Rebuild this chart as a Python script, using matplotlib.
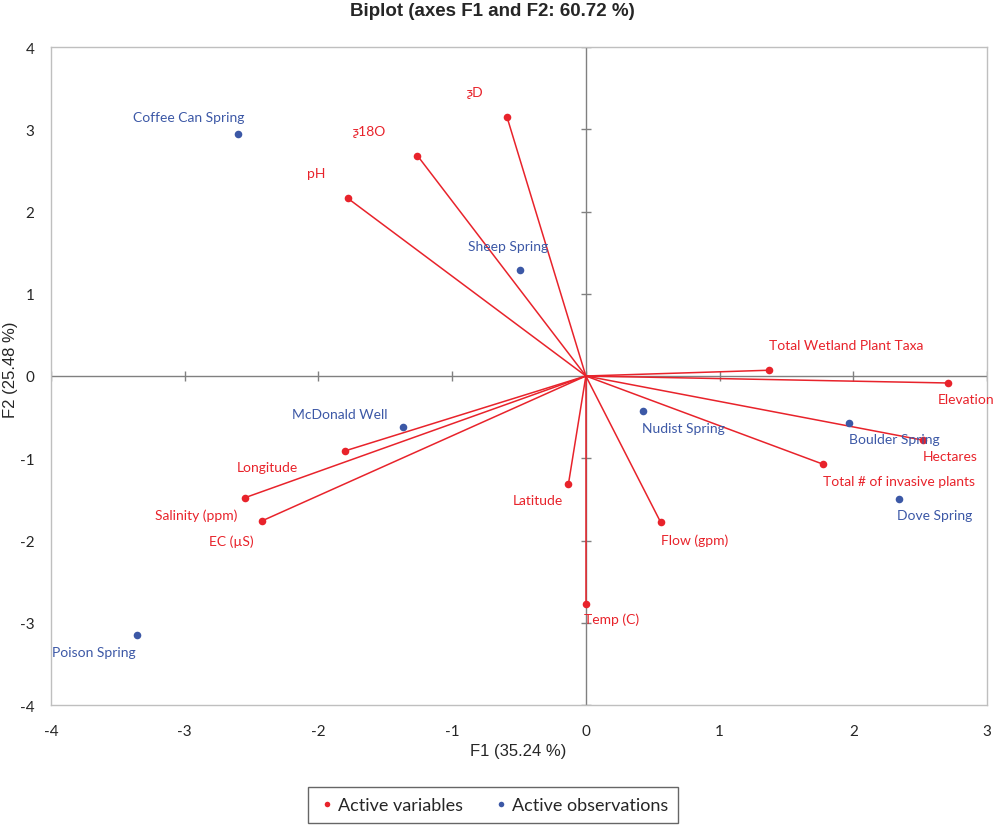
import matplotlib
matplotlib.use("Agg")
import matplotlib.pyplot as plt
from matplotlib.lines import Line2D

# ---- data ----
var_names = ["ƺD", "ƺ18O", "pH", "Total Wetland Plant Taxa", "Elevation", "Hectares",
             "Total # of invasive plants", "Flow (gpm)", "Temp (C)", "Latitude",
             "Longitude", "Salinity (ppm)", "EC (µS)"]
var_f1 = [-0.59, -1.26, -1.78, 1.37, 2.71, 2.52, 1.77, 0.56, 0.00, -0.13, -1.80, -2.55, -2.42]
var_f2 = [3.15, 2.68, 2.16, 0.07, -0.085, -0.78, -1.07, -1.78, -2.77, -1.31, -0.91, -1.48, -1.76]

obs_names = ["Coffee Can Spring", "Sheep Spring", "Nudist Spring", "Boulder Spring",
             "Dove Spring", "McDonald Well", "Poison Spring"]
obs_f1 = [-2.60, -0.49, 0.43, 1.97, 2.34, -1.37, -3.36]
obs_f2 = [2.94, 1.29, -0.43, -0.57, -1.50, -0.62, -3.15]

x_ticks = [-4, -3, -2, -1, 0, 1, 2, 3]
y_ticks = [-4, -3, -2, -1, 0, 1, 2, 3, 4]

# ---- label offsets (pixels) ----
var_off = [(-32, 25), (-48, 25), (-32, 25), (77, 25), (18, -16), (27, -16),
           (76, -17), (34, -17), (26, -15), (-31, -16), (-78, -16), (-49, -17), (-31, -20)]
obs_off = [(-50, 17), (-12, 24), (40, -17), (45, -16), (36, -16), (-63, 13), (-43, -17)]

RED = "#E8232B"
BLUE = "#3C58A6"
LBL_FONT = ["Lato", "DejaVu Sans"]

fig = plt.figure(figsize=(9.96, 8.28), dpi=100)
W, H = 996, 828
ax = fig.add_axes([51 / W, (H - 706) / H, 936 / W, 658 / H])
ax.set_xlim(-4, 3)
ax.set_ylim(-4, 4)

for s in ax.spines.values():
    s.set_color("#BFBFBF")
    s.set_linewidth(1.0)

# zero lines with tick marks
ax.axhline(0, color="#808080", lw=1.0, zorder=1)
ax.axvline(0, color="#808080", lw=1.0, zorder=1)
ax.plot(x_ticks, [0] * len(x_ticks), linestyle="none", marker="|", ms=7,
        color="#808080", mew=1.0, zorder=1)
ax.plot([0] * len(y_ticks), y_ticks, linestyle="none", marker="_", ms=7,
        color="#808080", mew=1.0, zorder=1)

# variable vectors
for x, y in zip(var_f1, var_f2):
    ax.plot([0, x], [0, y], color=RED, lw=1.1, zorder=2)
ax.scatter(var_f1, var_f2, s=30, color=RED, zorder=3, linewidths=0)
ax.scatter(obs_f1, obs_f2, s=30, color=BLUE, zorder=3, linewidths=0)

for name, x, y, (dx, dy) in zip(var_names, var_f1, var_f2, var_off):
    ax.annotate(name, (x, y), xytext=(dx, dy), textcoords="offset pixels",
                ha="center", va="center", color=RED, fontsize=10,
                family=LBL_FONT, zorder=4, annotation_clip=False)
for name, x, y, (dx, dy) in zip(obs_names, obs_f1, obs_f2, obs_off):
    ax.annotate(name, (x, y), xytext=(dx, dy), textcoords="offset pixels",
                ha="center", va="center", color=BLUE, fontsize=10,
                family=LBL_FONT, zorder=4, annotation_clip=False)

ax.set_xticks(x_ticks)
ax.set_yticks(y_ticks)
ax.set_xticklabels([str(t) for t in x_ticks], family=LBL_FONT, fontsize=11)
ax.set_yticklabels([str(t) for t in y_ticks], family=LBL_FONT, fontsize=11)
ax.tick_params(axis="both", length=0, colors="#262626")
ax.tick_params(axis="x", pad=14)
ax.tick_params(axis="y", pad=12)

fig.text(518 / W, 1 - 752 / H, "F1 (35.24 %)", ha="center", va="center",
         family="Liberation Sans", fontsize=12, color="#262626")
fig.text(11 / W, 1 - 370 / H, "F2 (25.48 %)", ha="center", va="center", rotation=90,
         family="Liberation Sans", fontsize=12, color="#262626")

fig.text(492 / W, 1 - 12 / H, "Biplot (axes F1 and F2: 60.72 %)", ha="center", va="center",
         family="Liberation Sans", fontweight="bold", fontsize=13.5, color="#262626")

handles = [Line2D([], [], linestyle="none", marker="o", ms=4, color=RED, mew=0),
           Line2D([], [], linestyle="none", marker="o", ms=4, color=BLUE, mew=0)]
leg = fig.legend(handles, ["Active variables", "Active observations"], loc="center",
                 bbox_to_anchor=(493 / W, 1 - 806 / H), ncol=2, frameon=True,
                 fancybox=False, edgecolor="#404040", handletextpad=0.1,
                 columnspacing=1.6, handlelength=1.0, borderpad=0.55,
                 prop={"family": LBL_FONT, "size": 13})
leg.get_frame().set_linewidth(1.0)
for t in leg.get_texts():
    t.set_color("#262626")

fig.savefig("out.png", dpi=100, facecolor="white")
